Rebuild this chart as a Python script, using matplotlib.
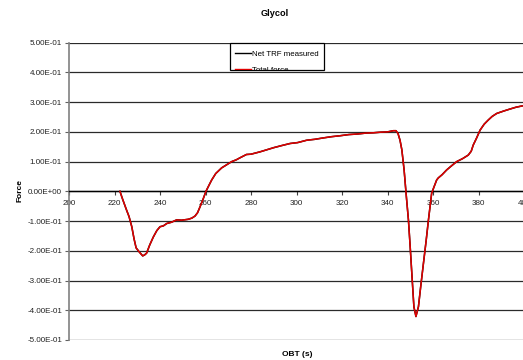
import matplotlib.pyplot as plt
from matplotlib.patches import Rectangle
import numpy as np

plt.rcParams['font.family'] = ['Liberation Sans', 'DejaVu Sans']

# OBT time (s) and force readings
obt = [222.4, 223.5, 225.3, 226.4, 227.6, 228.6, 229.5, 231.0, 232.4, 233.2, 234.1,
       235.5, 237.1, 238.6, 240.0, 241.5, 243.0, 245.0, 247.3, 249.5, 252.4, 254.0,
       255.4, 256.5, 257.6, 259.0, 260.2, 261.5, 262.7, 264.5, 267.1, 269.0, 271.5,
       273.5, 275.2, 278.0, 280.0, 282.0, 284.0, 287.0, 290.0, 293.5, 297.2, 300.5,
       304.5, 308.0, 312.0, 315.5, 319.1, 323.0, 327.0, 330.5, 333.8, 337.0, 340.0,
       342.6, 343.7, 344.6, 345.5, 346.3, 347.3, 348.2, 349.2, 350.0, 350.6, 351.6,
       352.5, 353.6, 354.6, 355.8, 357.0, 358.0, 359.4, 360.2, 361.6, 362.3, 364.0,
       366.0, 368.0, 370.4, 373.0, 375.5, 376.8, 377.7, 379.2, 380.7, 382.5, 384.3,
       386.0, 388.0, 391.0, 393.9, 396.5, 399.6]
net_trf = [0.000, -0.025, -0.063, -0.085, -0.119, -0.160, -0.190, -0.205, -0.217, -0.214, -0.208,
           -0.180, -0.153, -0.132, -0.119, -0.116, -0.108, -0.104, -0.096, -0.097, -0.094, -0.090,
           -0.083, -0.072, -0.052, -0.025, 0.000, 0.020, 0.038, 0.060, 0.079, 0.088, 0.100,
           0.106, 0.113, 0.124, 0.125, 0.129, 0.133, 0.140, 0.147, 0.154, 0.161, 0.164,
           0.172, 0.175, 0.180, 0.184, 0.187, 0.191, 0.193, 0.196, 0.197, 0.199, 0.200,
           0.204, 0.204, 0.195, 0.172, 0.140, 0.072, -0.010, -0.096, -0.190, -0.265, -0.388,
           -0.421, -0.388, -0.320, -0.242, -0.165, -0.096, -0.007, 0.010, 0.038, 0.045, 0.056,
           0.072, 0.085, 0.100, 0.110, 0.122, 0.135, 0.156, 0.180, 0.206, 0.226, 0.240,
           0.252, 0.262, 0.270, 0.277, 0.283, 0.288]
total_force = list(net_trf)

yticks = np.arange(-0.5, 0.51, 0.1)
xticks = np.arange(200, 401, 20)

W, H = 523, 360
fig = plt.figure(figsize=(W / 100, H / 100), dpi=100)


def fx(px):
    return px / W


def fy(py):
    return 1 - py / H


ax = fig.add_axes([fx(69), fy(340), fx(524) - fx(69), fy(42.7) - fy(340)])
ax.set_xlim(200, 400)
ax.set_ylim(-0.5, 0.5)

for v in yticks:
    ax.axhline(v, color='#2a2a2a', lw=0.9, zorder=1)

ax.plot(obt, net_trf, color='black', lw=1.1, zorder=2)
ax.plot(obt, total_force, color='#e00000', lw=1.1, zorder=3)

ax.spines['top'].set_visible(False)
ax.spines['right'].set_visible(False)
ax.spines['left'].set_color('#808080')
ax.spines['left'].set_linewidth(1.2)
ax.spines['bottom'].set_position(('data', 0))
ax.spines['bottom'].set_color('black')
ax.spines['bottom'].set_linewidth(1.0)

ax.set_yticks(yticks)
ax.set_yticklabels(['%.2fE%+03d' % (v * 10, -1) if abs(v) > 1e-9 else '0.00E+00'
                    for v in yticks])
ax.set_xticks(xticks)
ax.set_xticklabels([str(v) for v in xticks])
ax.tick_params(axis='y', length=3, width=0.8, color='#606060', labelsize=5.8,
               labelcolor='#222222', pad=2)
ax.tick_params(axis='x', length=3, width=0.8, color='#404040', labelsize=5.8,
               labelcolor='#222222', pad=3)

fig.text(fx(275), fy(14), 'Glycol', fontsize=6.6, fontweight='bold', ha='center', va='center')
fig.text(fx(297), fy(354), 'OBT (s)', fontsize=6, fontweight='bold', ha='center', va='center')
fig.text(fx(20), fy(190), 'Force', fontsize=6, fontweight='bold', ha='center', va='center',
         rotation=90)

# legend box with the lower entry cut off by the frame
box = Rectangle((fx(230), fy(70)), fx(324) - fx(230), fy(42.7) - fy(70),
                transform=fig.transFigure, facecolor='white', edgecolor='black',
                lw=0.9, zorder=5)
fig.add_artist(box)
entries = [('Net TRF measured', 'black', 53.3), ('Total force', '#e00000', 69.3)]
for label, color, py in entries:
    ln = plt.Line2D([fx(235), fx(251)], [fy(py), fy(py)], transform=fig.transFigure,
                    color=color, lw=1.0, zorder=6)
    fig.add_artist(ln)
    ln.set_clip_path(box)
    t = fig.text(fx(252.5), fy(py + 1.5), label, fontsize=5.7, ha='left', va='center', zorder=6)
    t.set_clip_path(box)

fig.savefig('out.png', dpi=100)
